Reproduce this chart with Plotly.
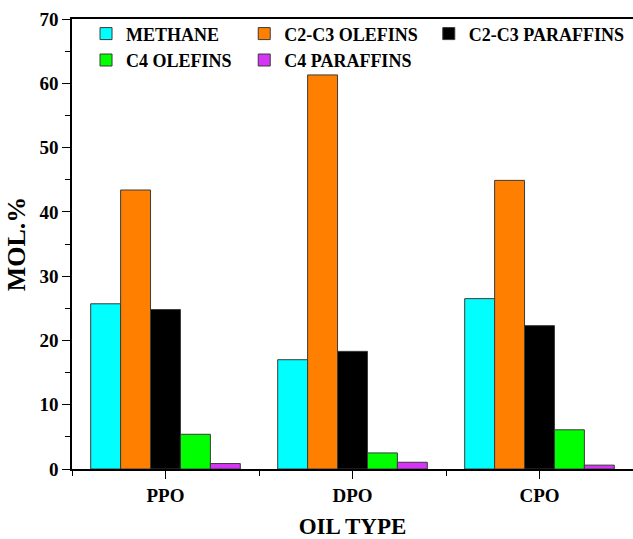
import plotly.graph_objects as go

categories = ["PPO", "DPO", "CPO"]
series_names = ["METHANE", "C2-C3 OLEFINS", "C2-C3 PARAFFINS", "C4 OLEFINS", "C4 PARAFFINS"]
methane = [25.7, 17.0, 26.5]
c23_olefins = [43.4, 61.3, 44.9]
c23_paraffins = [24.8, 18.3, 22.3]
c4_olefins = [5.4, 2.5, 6.1]
c4_paraffins = [0.85, 1.05, 0.6]
y_ticks = [0, 10, 20, 30, 40, 50, 60, 70]

series_values = [methane, c23_olefins, c23_paraffins, c4_olefins, c4_paraffins]
colors = ["#00FFFF", "#FF8000", "#000000", "#00FF00", "#D535F5"]
# legend columns as in the original (column 1: METHANE / C4 OLEFINS, etc.)
legend_ids = ["legend", "legend2", "legend3", "legend", "legend2"]

xpos = list(range(len(categories)))
FONT = "Liberation Serif"

fig = go.Figure()
for name, vals, col, lg in zip(series_names, series_values, colors, legend_ids):
    fig.add_trace(go.Bar(
        x=xpos, y=vals, name=name, legend=lg,
        marker=dict(color=col, line=dict(color="#3a3a3a", width=1)),
    ))

legend_font = dict(family=FONT, size=18, color="black", weight="bold")
def legend_box(x):
    return dict(orientation="v", x=x, y=1.008, xanchor="left", yanchor="top",
                font=legend_font, bgcolor="rgba(0,0,0,0)", itemwidth=30,
                tracegroupgap=0, traceorder="normal")

fig.update_layout(
    width=633, height=539,
    margin=dict(l=72, r=0, t=19, b=70),
    plot_bgcolor="white", paper_bgcolor="white",
    barmode="group", bargap=0.2, bargroupgap=0,
    font=dict(family=FONT, color="black"),
    legend=legend_box(0.025),
    legend2=legend_box(0.307),
    legend3=legend_box(0.636),
    xaxis=dict(
        range=[-0.5, len(categories) - 0.5],
        tickmode="array", tickvals=xpos, ticktext=categories,
        ticks="outside", ticklen=8, tickwidth=1.2, tickcolor="black",
        minor=dict(ticks="outside", dtick=0.5, tick0=0, ticklen=5, tickcolor="black", tickwidth=1.2),
        showline=True, linecolor="black", linewidth=1.5, mirror=True,
        showgrid=False, zeroline=False,
        tickfont=dict(family=FONT, size=19, color="black", weight="bold"),
        title=dict(text="OIL TYPE", font=dict(family=FONT, size=23, color="black", weight="bold"), standoff=14),
    ),
    yaxis=dict(
        range=[0, 70],
        tickmode="array", tickvals=y_ticks,
        ticks="outside", ticklen=8, tickwidth=1.2, tickcolor="black",
        minor=dict(ticks="outside", dtick=5, ticklen=5, tickcolor="black", tickwidth=1.2),
        showline=True, linecolor="black", linewidth=1.5, mirror=False,
        showgrid=False, zeroline=False,
        tickfont=dict(family=FONT, size=19, color="black", weight="bold"),
        title=dict(text="MOL.%", font=dict(family=FONT, size=26, color="black", weight="bold"), standoff=6),
    ),
)

fig.write_html("out.html")
